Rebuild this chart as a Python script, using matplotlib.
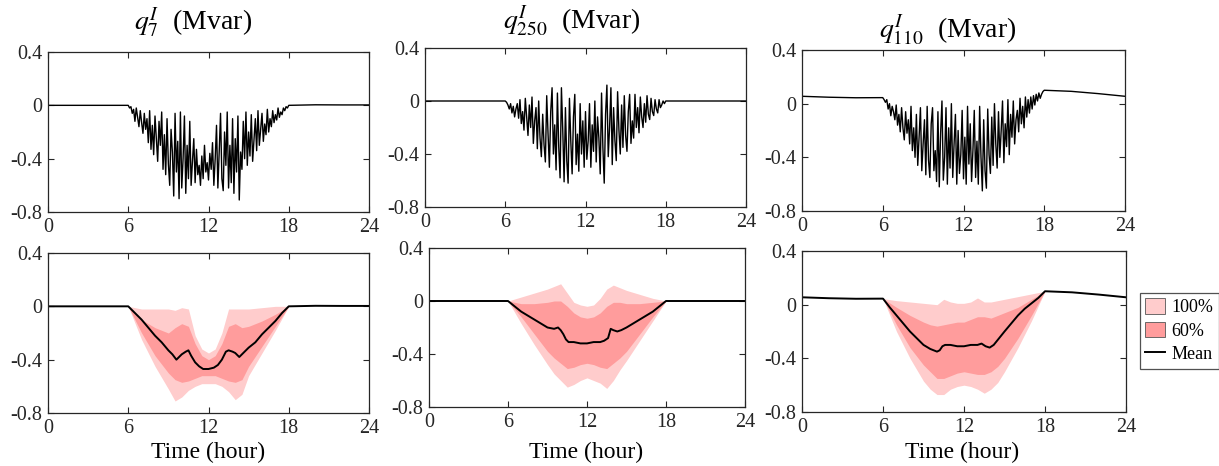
#!/usr/bin/env python3

import matplotlib
matplotlib.use('Agg')
import matplotlib.pyplot as plt
import numpy as np
from matplotlib.patches import Patch
from matplotlib.lines import Line2D

# ======================================================================
# Data.
# ======================================================================

titles = [r'$q^{I}_{7}$  (Mvar)', r'$q^{I}_{250}$  (Mvar)',
          r'$q^{I}_{110}$  (Mvar)']

# daylight samples, every 0.1 h from 6 to 18
day_t = np.linspace(6., 18., 121)

q7_day = [
    0.00, -0.02, -0.01, -0.06, -0.03, -0.12, -0.02, -0.09, -0.16, -0.04,
    -0.13, -0.21, -0.06, -0.18, -0.10, -0.28, -0.04, -0.33, -0.15, -0.37,
    -0.08, -0.25, -0.42, -0.12, -0.30, -0.05, -0.48, -0.22, -0.52, -0.10,
    -0.44, -0.60, -0.18, -0.35, -0.68, -0.06, -0.50, -0.27, -0.70, -0.05,
    -0.62, -0.40, -0.08, -0.66, -0.30, -0.55, -0.12, -0.60, -0.42, -0.25,
    -0.58, -0.33, -0.52, -0.45, -0.60, -0.38, -0.55, -0.30, -0.50, -0.43,
    -0.56, -0.36, -0.48, -0.28, -0.60, -0.40, -0.15, -0.62, -0.35, -0.06,
    -0.55, -0.64, -0.20, -0.45, -0.05, -0.62, -0.30, -0.58, -0.10, -0.66,
    -0.25, -0.50, -0.08, -0.71, -0.35, -0.48, -0.12, -0.40, -0.05, -0.45,
    -0.20, -0.38, -0.07, -0.42, -0.26, -0.10, -0.34, -0.04, -0.30, -0.18,
    -0.06, -0.27, -0.14, -0.22, -0.03, -0.20, -0.10, -0.16, -0.04, -0.13,
    -0.07, -0.11, -0.02, -0.09, -0.05, -0.07, -0.02, -0.04, -0.01, -0.02,
    0.00,
    ]
q250_day = [
    0.00, -0.01, -0.03, -0.06, -0.02, -0.09, -0.04, -0.12, -0.06, -0.02,
    -0.13, 0.01, -0.17, -0.08, -0.22, 0.02, -0.12, -0.26, -0.03, -0.20,
    0.03, -0.32, -0.15, -0.05, -0.36, 0.00, -0.28, -0.42, -0.10, -0.33,
    -0.46, 0.04, -0.25, -0.50, -0.08, 0.10, -0.40, -0.18, -0.52, 0.06,
    -0.35, -0.58, 0.10, -0.22, -0.61, -0.05, -0.45, -0.62, 0.02, -0.30,
    -0.55, -0.12, 0.05, -0.48, -0.25, -0.53, -0.02, -0.40, -0.15, -0.50,
    -0.08, -0.44, -0.30, -0.02, -0.50, -0.18, -0.38, 0.00, -0.46, -0.12,
    -0.28, -0.55, 0.06, -0.35, -0.62, -0.10, 0.12, -0.42, -0.20, 0.10,
    -0.48, -0.05, -0.30, -0.45, 0.07, -0.22, -0.40, -0.03, -0.35, 0.04,
    -0.26, -0.38, -0.08, 0.05, -0.32, -0.15, -0.28, 0.05, -0.20, -0.05,
    -0.24, 0.03, -0.12, -0.20, -0.02, -0.16, 0.04, -0.10, -0.14, 0.02,
    -0.08, -0.11, 0.01, -0.06, -0.09, 0.01, -0.05, -0.03, 0.00, -0.02,
    0.00,
    ]
q110_day = [
    0.045, 0.03, 0.01, 0.03, -0.04, 0.00, -0.09, -0.02, -0.06, -0.12,
    -0.01, -0.16, -0.08, -0.21, -0.03, -0.18, -0.27, -0.06, -0.22, -0.12,
    -0.30, -0.02, -0.35, -0.18, -0.40, -0.08, -0.46, -0.25, -0.03, -0.50,
    -0.30, -0.12, -0.53, -0.02, -0.42, -0.55, -0.15, -0.03, -0.50, -0.35,
    -0.58, -0.06, -0.62, -0.22, 0.02, -0.57, -0.40, -0.03, -0.60, -0.18,
    -0.48, 0.00, -0.55, -0.30, -0.08, -0.60, -0.20, -0.52, -0.38, -0.05,
    -0.56, -0.25, -0.60, -0.02, -0.45, -0.15, -0.58, -0.35, -0.05, -0.55,
    -0.28, -0.60, -0.02, -0.40, -0.65, -0.12, -0.50, -0.63, -0.04, -0.38,
    -0.52, -0.10, -0.46, 0.00, -0.30, -0.48, -0.06, -0.40, -0.20, 0.02,
    -0.44, -0.15, -0.32, 0.03, -0.38, -0.08, -0.25, 0.02, -0.30, -0.12,
    -0.05, -0.21, 0.04, -0.15, -0.02, -0.18, 0.05, -0.10, 0.03, -0.07,
    0.05, -0.04, 0.06, -0.01, 0.07, 0.02, 0.08, 0.04, 0.07, 0.09,
    0.10,
    ]

# night-time values (before 6 h and after 18 h)
pre_t = [0., 2., 4., 6.]
post_t = [18., 20., 22., 24.]
q7_pre, q7_post = [0., 0., 0., 0.], [0.005, 0.004, 0.003, 0.003]
q250_pre, q250_post = [0., 0., 0., 0.], [0., 0., 0., 0.]
q110_pre, q110_post = [0.055, 0.048, 0.044, 0.045], [0.10, 0.092, 0.075, 0.055]

# band envelopes
band_t = [6., 7., 8., 9., 9.5, 10., 10.5, 11., 11.5, 12., 12.5, 13., 13.5,
          14., 14.5, 15., 16., 17., 18.]

q7_hi100 = [0, -0.02, -0.02, -0.02, -0.03, -0.01, -0.02, -0.22, -0.32, -0.35,
            -0.32, -0.20, -0.02, -0.02, -0.02, -0.02, -0.01, 0, 0]
q7_lo100 = [0, -0.25, -0.45, -0.62, -0.71, -0.68, -0.63, -0.60, -0.58, -0.58,
            -0.58, -0.60, -0.64, -0.70, -0.66, -0.52, -0.35, -0.18, 0]
q7_hi60 = [0, -0.10, -0.16, -0.20, -0.16, -0.13, -0.15, -0.28, -0.37, -0.40,
           -0.37, -0.28, -0.15, -0.13, -0.16, -0.15, -0.11, -0.06, 0]
q7_lo60 = [0, -0.20, -0.37, -0.50, -0.55, -0.57, -0.56, -0.54, -0.52, -0.52,
           -0.52, -0.54, -0.56, -0.57, -0.55, -0.45, -0.30, -0.15, 0]

q250_hi100 = [0, 0.03, 0.06, 0.09, 0.11, 0.13, 0.06, -0.01, -0.03, -0.04,
              -0.03, 0.02, 0.09, 0.12, 0.10, 0.08, 0.05, 0.02, 0]
q250_lo100 = [0, -0.17, -0.33, -0.48, -0.55, -0.60, -0.65, -0.63, -0.60,
              -0.58, -0.60, -0.62, -0.66, -0.60, -0.52, -0.45, -0.30, -0.15, 0]
q250_hi60 = [0, -0.02, -0.02, -0.01, 0.00, 0.00, -0.04, -0.09, -0.12, -0.13,
             -0.12, -0.09, -0.04, -0.01, -0.01, -0.02, -0.02, -0.01, 0]
q250_lo60 = [0, -0.12, -0.25, -0.38, -0.43, -0.47, -0.51, -0.50, -0.48, -0.47,
             -0.48, -0.50, -0.51, -0.47, -0.43, -0.38, -0.25, -0.12, 0]

q110_hi100 = [0.045, 0.03, 0.02, 0.01, 0.005, 0.0, 0.04, 0.02, 0.01, 0.01,
              0.02, 0.05, 0.02, 0.02, 0.03, 0.04, 0.06, 0.08, 0.10]
q110_lo100 = [0.045, -0.20, -0.40, -0.57, -0.63, -0.67, -0.67, -0.63, -0.61,
              -0.60, -0.61, -0.63, -0.66, -0.63, -0.58, -0.50, -0.32, -0.12,
              0.10]
q110_hi60 = [0.045, -0.02, -0.08, -0.13, -0.15, -0.16, -0.15, -0.14, -0.13,
             -0.13, -0.11, -0.09, -0.09, -0.10, -0.08, -0.06, -0.02, 0.04,
             0.10]
q110_lo60 = [0.045, -0.15, -0.32, -0.45, -0.50, -0.55, -0.55, -0.53, -0.51,
             -0.50, -0.51, -0.52, -0.52, -0.50, -0.46, -0.40, -0.25, -0.08,
             0.10]

# mean curves
q7_mean_t = [6, 6.5, 7, 7.5, 8, 8.5, 9, 9.3, 9.6, 9.8, 10.0, 10.3, 10.5, 10.7,
             11.0, 11.3, 11.6, 12.0, 12.4, 12.7, 13.0, 13.3, 13.5, 13.8, 14.0,
             14.3, 14.6, 15.0, 15.5, 16.0, 16.5, 17.0, 17.5, 18.0]
q7_mean = [0, -0.05, -0.10, -0.16, -0.22, -0.27, -0.33, -0.36, -0.40, -0.38,
           -0.36, -0.34, -0.33, -0.37, -0.42, -0.45, -0.47, -0.47, -0.46,
           -0.44, -0.40, -0.34, -0.33, -0.34, -0.35, -0.38, -0.35, -0.31,
           -0.27, -0.21, -0.16, -0.11, -0.05, 0]
q250_mean_t = [6, 6.5, 7, 7.5, 8, 8.5, 9, 9.5, 9.8, 10.0, 10.2, 10.4, 10.6,
               11.0, 11.5, 12.0, 12.5, 13.0, 13.3, 13.6, 13.8, 14.0, 14.3,
               14.6, 15.0, 15.5, 16.0, 16.5, 17.0, 17.5, 18]
q250_mean = [0, -0.04, -0.08, -0.11, -0.14, -0.17, -0.20, -0.21, -0.20, -0.22,
             -0.25, -0.29, -0.31, -0.31, -0.32, -0.32, -0.31, -0.31, -0.30,
             -0.28, -0.21, -0.22, -0.23, -0.22, -0.20, -0.17, -0.14, -0.11,
             -0.08, -0.04, 0]
q110_mean_t = [6, 6.5, 7, 7.5, 8, 8.5, 9, 9.5, 10.0, 10.2, 10.4, 10.6, 11.0,
               11.5, 12.0, 12.5, 13.0, 13.3, 13.6, 13.9, 14.2, 14.6, 15.0,
               15.5, 16.0, 16.5, 17.0, 17.5, 18]
q110_mean = [0.045, -0.02, -0.08, -0.14, -0.20, -0.25, -0.30, -0.33, -0.35,
             -0.34, -0.31, -0.30, -0.30, -0.31, -0.31, -0.30, -0.30, -0.29,
             -0.31, -0.32, -0.30, -0.25, -0.20, -0.14, -0.08, -0.03, 0.01,
             0.05, 0.10]

xticks = [0, 6, 12, 18, 24]
yticks = [-0.8, -0.4, 0, 0.4]
ytick_labels = ['-0.8', '-0.4', '0', '0.4']

# ======================================================================
# Style.
# ======================================================================

plt.rcParams['font.family'] = ['Liberation Serif', 'DejaVu Serif']
plt.rcParams['mathtext.fontset'] = 'stix'
plt.rcParams['axes.edgecolor'] = '#262626'
plt.rcParams['xtick.color'] = '#262626'
plt.rcParams['ytick.color'] = '#262626'

C100 = '#ffcccc'
C60 = '#ff9c9c'
W, H = 1219., 466.


def box(left, right, top, bottom):
    return [left / W, 1. - bottom / H, (right - left) / W, (bottom - top) / H]


def style(ax):
    ax.set_xlim(0, 24)
    ax.set_ylim(-0.8, 0.4)
    ax.set_xticks(xticks)
    ax.set_yticks(yticks)
    ax.set_yticklabels(ytick_labels)
    ax.tick_params(direction='in', top=True, right=True, length=4,
                   width=0.8, labelsize=14.5, pad=4)
    for s in ax.spines.values():
        s.set_linewidth(0.9)


fig = plt.figure(figsize=(W / 100., H / 100.), dpi=100)

top_boxes = [box(48, 369, 52, 212), box(425, 746, 48, 207),
             box(802, 1125, 50, 211)]
bot_boxes = [box(48, 369, 253, 413), box(429, 745, 248, 407),
             box(802, 1126, 251, 412)]

tops = [(q7_pre, q7_day, q7_post), (q250_pre, q250_day, q250_post),
        (q110_pre, q110_day, q110_post)]
bands = [
    (q7_hi100, q7_lo100, q7_hi60, q7_lo60, q7_mean_t, q7_mean),
    (q250_hi100, q250_lo100, q250_hi60, q250_lo60, q250_mean_t, q250_mean),
    (q110_hi100, q110_lo100, q110_hi60, q110_lo60, q110_mean_t, q110_mean),
    ]

title_x = [193, 572, 948]
title_y = [30, 28, 37]
xlab_x = [208, 586, 962]

# ======================================================================
# Top row: single realisation.
# ======================================================================

for i in range(3):
    ax = fig.add_axes(top_boxes[i])
    pre, day, post = tops[i]
    t = np.concatenate([pre_t[:-1], day_t, post_t[1:]])
    y = np.concatenate([pre[:-1], day, post[1:]])
    ax.plot(t, y, color='k', lw=1.0)
    style(ax)
    fig.text(title_x[i] / W, 1. - title_y[i] / H, titles[i], ha='center',
             va='baseline', fontsize=20)

# ======================================================================
# Bottom row: bands and mean.
# ======================================================================

for i in range(3):
    ax = fig.add_axes(bot_boxes[i])
    hi100, lo100, hi60, lo60, mt, mv = bands[i]
    pre, day, post = tops[i]
    ax.fill_between(band_t, lo100, hi100, color=C100, lw=0)
    ax.fill_between(band_t, lo60, hi60, color=C60, lw=0)
    t = np.concatenate([pre_t[:-1], mt, post_t[1:]])
    y = np.concatenate([pre[:-1], mv, post[1:]])
    ax.plot(t, y, color='k', lw=1.4)
    style(ax)
    fig.text(xlab_x[i] / W, 1. - 458. / H, 'Time (hour)', ha='center',
             va='baseline', fontsize=17)

handles = [
    Patch(facecolor=C100, edgecolor='#555555', lw=0.6),
    Patch(facecolor=C60, edgecolor='#555555', lw=0.6),
    Line2D([], [], color='k', lw=1.4),
    ]
leg = fig.legend(handles, ['100%', '60%', 'Mean'], loc='upper left',
                 bbox_to_anchor=(1140. / W, 1. - 293. / H), fontsize=13,
                 frameon=True, fancybox=False, edgecolor='#262626',
                 handlelength=1.1, handleheight=0.95, handletextpad=0.35,
                 labelspacing=0.3, borderpad=0.3, borderaxespad=0.)
leg.get_frame().set_linewidth(0.9)

fig.savefig('out.png', dpi=100)
